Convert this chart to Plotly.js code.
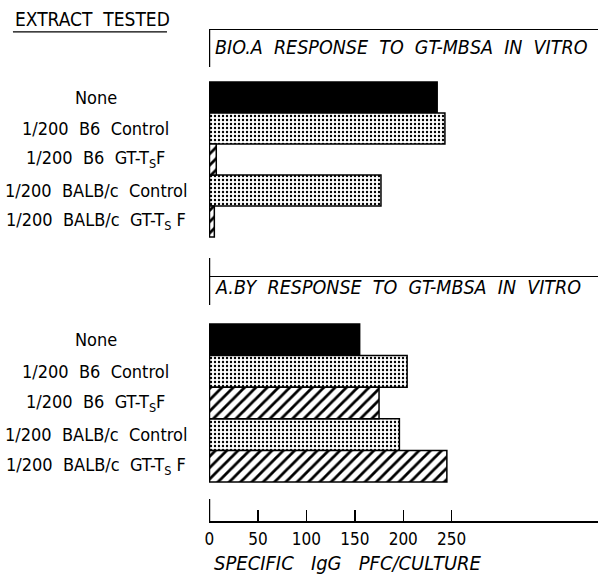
<!DOCTYPE html>
<html>
<head>
<meta charset="utf-8">
<script src="https://cdn.plot.ly/plotly-3.0.1.min.js"></script>
<style>html,body{margin:0;padding:0;background:#fff;}#chart{width:598px;height:578px;}</style>
</head>
<body>
<div id="chart"></div>
<script>
const categories = ["None", "1/200  B6  Control", "1/200  B6  GT-T<sub>S</sub>F", "1/200  BALB/c  Control", "1/200  BALB/c  GT-T<sub>S</sub> F"];
const b10aValues = [235, 243, 7, 177, 5];
const abyValues = [155, 204, 175, 196, 245];
const extractKinds = ["none", "control", "tsf", "control", "tsf"];
const tickValues = [0, 50, 100, 150, 200, 250];
const tickLabels = ["0", "50", "100", "150", "200", "250"];
const panelTitles = ["BIO.A  RESPONSE  TO  GT-MBSA  IN  VITRO", "A.BY  RESPONSE  TO  GT-MBSA  IN  VITRO"];
const xTitle = "SPECIFIC   IgG   PFC/CULTURE";
const headerText = "EXTRACT  TESTED";

const FONT = "'DejaVu Sans Condensed', 'Liberation Sans Narrow', sans-serif";

const styles = {
  none: {color: "#000000", pattern: {shape: ""}},
  control: {color: "#ffffff", pattern: {shape: ".", fgcolor: "#000", bgcolor: "#fff", size: 4, solidity: 0.28, fillmode: "replace"}},
  tsf: {color: "#ffffff", pattern: {shape: "/", fgcolor: "#000", bgcolor: "#fff", size: 8, solidity: 0.35, fillmode: "replace"}}
};

const data = [];
[[b10aValues, "x", "y"], [abyValues, "x2", "y2"]].forEach(([vals, xa, ya]) => {
  Object.keys(styles).forEach(kind => {
    const ids = extractKinds.map((k, i) => k === kind ? i : -1).filter(i => i >= 0);
    data.push({
      type: "bar", orientation: "h",
      x: ids.map(i => vals[i]), y: ids, xaxis: xa, yaxis: ya,
      width: 1,
      marker: {color: styles[kind].color, line: {color: "#000", width: 1.5}, pattern: styles[kind].pattern},
      hoverinfo: "skip", showlegend: false
    });
  });
});

const ann = [];
categories.forEach((c, i) => {
  ["y", "y2"].forEach(ya => {
    ann.push({text: c, xref: "paper", yref: ya, x: -0.2905, y: i, xanchor: "center", yanchor: "middle", showarrow: false, font: {family: FONT, size: 18, color: "#000"}});
  });
});
ann.push({text: "<i>" + panelTitles[0] + "</i>", xref: "paper", yref: "y domain", x: 0.0103, y: 0.927, xanchor: "left", yanchor: "middle", showarrow: false, font: {family: FONT, size: 19.5, color: "#000"}});
ann.push({text: "<i>" + panelTitles[1] + "</i>", xref: "paper", yref: "y2 domain", x: 0.0103, y: 0.951, xanchor: "left", yanchor: "middle", showarrow: false, font: {family: FONT, size: 19.5, color: "#000"}});
ann.push({text: headerText, xref: "paper", yref: "paper", x: -0.504, y: 1.0214, xanchor: "left", yanchor: "middle", showarrow: false, font: {family: FONT, size: 19, color: "#000"}});
ann.push({text: "<i>" + xTitle + "</i>", xref: "paper", yref: "paper", x: 0.357, y: -0.086, xanchor: "center", yanchor: "middle", showarrow: false, font: {family: FONT, size: 20, color: "#000"}});

const L = {color: "#000", width: 1.5};
const shapes = [
  {type: "line", xref: "x", yref: "y domain", x0: 0, x1: 0, y0: 0.85, y1: 1, line: L},
  {type: "line", xref: "x", yref: "y domain", x0: 0, x1: 0, y0: 0, y1: 0.073, line: L},
  {type: "line", xref: "x2", yref: "y2 domain", x0: 0, x1: 0, y0: 0.882, y1: 1, line: L},
  {type: "line", xref: "x2", yref: "y2 domain", x0: 0, x1: 0, y0: 0, y1: 0.09, line: L},
  {type: "line", xref: "paper", yref: "paper", x0: -0.504, x1: -0.108, y0: 0.996, y1: 0.996, line: {color: "#000", width: 1.2}}
];

const xr = [-0.5, 401];
const layout = {
  width: 598, height: 578,
  margin: {l: 209, r: 0, t: 30, b: 57},
  paper_bgcolor: "#fff", plot_bgcolor: "rgba(0,0,0,0)",
  barmode: "overlay", bargap: 0,
  font: {family: FONT, color: "#000"},
  xaxis: {domain: [0, 1], range: xr, anchor: "y", showline: true, mirror: true, linecolor: "#000", linewidth: 1.5, showticklabels: false, ticks: "", showgrid: false, zeroline: false},
  yaxis: {domain: [0.499, 1], range: [5.758, -2.177], anchor: "x", showticklabels: false, ticks: "", showgrid: false, zeroline: false, showline: false},
  xaxis2: {domain: [0, 1], range: xr, anchor: "y2", showline: true, linecolor: "#000", linewidth: 1.5, ticks: "inside", ticklen: 11, tickwidth: 1.5, tickcolor: "#000", tickvals: tickValues, ticktext: tickLabels, ticklabelstandoff: 2, tickfont: {family: FONT, size: 17, color: "#000"}, showgrid: false, zeroline: false},
  yaxis2: {domain: [0, 0.499], range: [5.734, -2.019], anchor: "x2", showticklabels: false, ticks: "", showgrid: false, zeroline: false, showline: false},
  annotations: ann,
  shapes: shapes
};

Plotly.newPlot("chart", data, layout, {displayModeBar: false, staticPlot: true});
</script>
</body>
</html>
